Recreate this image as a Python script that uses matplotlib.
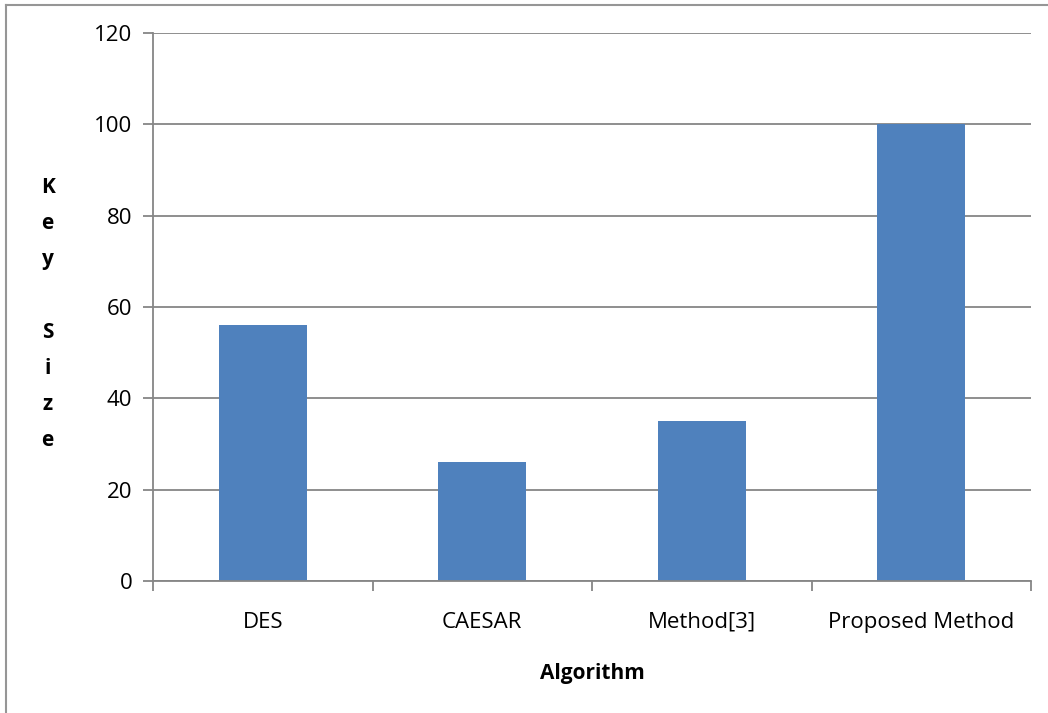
import numpy as np
import matplotlib.pyplot as plt
from matplotlib.lines import Line2D

algorithms = ['DES', 'CAESAR', 'Method[3]', 'Proposed Method']
key_size = [56, 26, 35, 100]
y_ticks = [0, 20, 40, 60, 80, 100, 120]

plt.rcParams['font.family'] = ['Open Sans', 'DejaVu Sans']

fig = plt.figure(figsize=(10.48, 7.13), dpi=100)
ax = fig.add_axes([153 / 1048, 1 - 581 / 713, (1031 - 153) / 1048, (581 - 33) / 713])

x = np.arange(len(algorithms))
ax.bar(x, key_size, width=0.4, color='#4F81BD', zorder=3)

ax.set_xlim(-0.5, len(algorithms) - 0.5)
ax.set_ylim(0, 120)
ax.set_yticks(y_ticks)
ax.tick_params(axis='y', length=7, width=1.3, color='#868686', labelsize=16, pad=8)
ax.grid(axis='y', color='#868686', linewidth=1.3, zorder=0)

# category ticks sit between the bars, labels under the bar centres
ax.set_xticks(np.arange(len(algorithms) + 1) - 0.5)
ax.set_xticklabels([])
ax.set_xticks(x, minor=True)
ax.set_xticklabels(algorithms, minor=True)
ax.tick_params(axis='x', which='major', direction='out', length=7, width=1.3, color='#868686')
ax.tick_params(axis='x', which='minor', length=0, labelsize=16, pad=22)

for side in ['top', 'right']:
    ax.spines[side].set_visible(False)
for side in ['left', 'bottom']:
    ax.spines[side].set_color('#868686')
    ax.spines[side].set_linewidth(1.3)
    ax.spines[side].set_zorder(4)

ax.set_xlabel('Algorithm', fontsize=15, fontweight='bold', labelpad=22)
ax.set_ylabel('K\ne\ny\n\nS\ni\nz\ne', fontsize=15, fontweight='bold',
              rotation=0, linespacing=1.95, va='center', ha='center')
ax.yaxis.set_label_coords(-0.12, 0.487)

# chart frame (left and top edges visible)
fig.add_artist(Line2D([6 / 1048, 6 / 1048], [0, 1 - 5 / 713], color='#969696', linewidth=1.5))
fig.add_artist(Line2D([6 / 1048, 1], [1 - 5 / 713, 1 - 5 / 713], color='#969696', linewidth=1.5))

fig.savefig('out.png', dpi=100)
